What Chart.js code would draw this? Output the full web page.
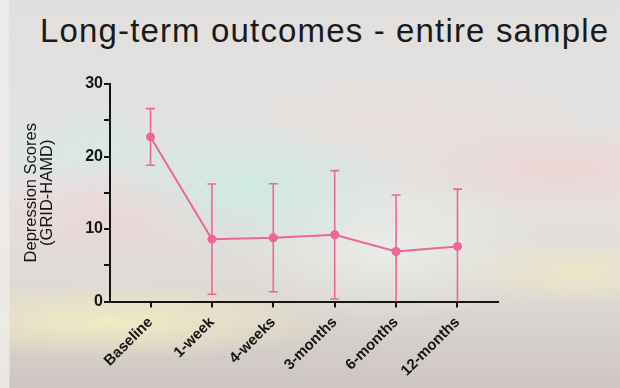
<!DOCTYPE html>
<html>
<head>
<meta charset="utf-8">
<script src="https://cdn.jsdelivr.net/npm/chart.js@4"></script>
<style>
  html, body { margin: 0; padding: 0; }
  body {
    width: 620px; height: 388px; overflow: hidden; position: relative;
    background:
      linear-gradient(90deg, rgba(238,236,234,0.85) 0px, rgba(238,236,234,0.85) 9px, rgba(0,0,0,0) 10px),
      radial-gradient(ellipse 150px 70px at 250px 190px, rgba(200,238,226,0.8), rgba(200,238,226,0) 100%),
      radial-gradient(ellipse 190px 55px at 140px 215px, rgba(244,206,212,0.6), rgba(244,206,212,0) 100%),
      radial-gradient(ellipse 130px 45px at 90px 150px, rgba(210,236,232,0.65), rgba(210,236,232,0) 100%),
      radial-gradient(ellipse 230px 40px at 110px 322px, rgba(246,238,192,0.85), rgba(246,238,192,0) 100%),
      radial-gradient(ellipse 170px 45px at 560px 170px, rgba(244,204,204,0.6), rgba(244,204,204,0) 100%),
      radial-gradient(ellipse 130px 35px at 580px 272px, rgba(246,236,192,0.65), rgba(246,236,192,0) 100%),
      radial-gradient(ellipse 160px 70px at 390px 250px, rgba(236,244,238,0.65), rgba(236,244,238,0) 100%),
      radial-gradient(ellipse 160px 40px at 420px 120px, rgba(240,214,214,0.4), rgba(240,214,214,0) 100%),
      linear-gradient(180deg, #e2e0df 0px, #e4e2e0 200px, #ddd8d3 300px, #cdc5c1 388px);
  }
  #title {
    position: absolute; left: 40px; top: 14px;
    font-family: "Liberation Sans", Arial, sans-serif; font-size: 33px; line-height: 33px;
    letter-spacing: 1.15px; color: #1a1a1a; white-space: nowrap;
  }
  #wrap { position: absolute; left: 0; top: 0; width: 620px; height: 388px; }
</style>
</head>
<body>
<div id="title">Long-term outcomes - entire sample</div>
<div id="wrap"><canvas id="c" width="620" height="388"></canvas></div>
<script>
// Time points and mean depression scores with their standard deviations
const timepoints = ['Baseline', '1-week', '4-weeks', '3-months', '6-months', '12-months'];
const meanScores = [22.7, 8.6, 8.8, 9.2, 6.9, 7.6];
const sdScores = [3.9, 7.6, 7.45, 8.85, 7.8, 7.9];
const yTickValues = [0, 10, 20, 30];

const pink = '#f0649a';
const ink = '#151515';

// Draws mean ± SD whiskers with caps, clipped to the plot area
const errorBars = {
  id: 'errorBars',
  beforeDatasetsDraw(chart) {
    const { ctx, chartArea, scales } = chart;
    ctx.save();
    ctx.beginPath();
    ctx.rect(chartArea.left, chartArea.top - 10, chartArea.right - chartArea.left, chartArea.bottom - chartArea.top + 10);
    ctx.clip();
    ctx.strokeStyle = pink;
    ctx.lineWidth = 1.6;
    meanScores.forEach((m, i) => {
      const x = scales.x.getPixelForValue(i);
      const yHi = scales.y.getPixelForValue(m + sdScores[i]);
      const yLo = scales.y.getPixelForValue(m - sdScores[i]);
      ctx.beginPath();
      ctx.moveTo(x, yHi); ctx.lineTo(x, yLo);
      ctx.moveTo(x - 4.5, yHi); ctx.lineTo(x + 4.5, yHi);
      ctx.moveTo(x - 4.5, yLo); ctx.lineTo(x + 4.5, yLo);
      ctx.stroke();
    });
    ctx.restore();
  }
};

new Chart(document.getElementById('c'), {
  type: 'line',
  data: {
    datasets: [{
      data: meanScores.map((v, i) => ({ x: i, y: v })),
      borderColor: pink,
      backgroundColor: pink,
      borderWidth: 2,
      pointRadius: 4.5,
      pointBackgroundColor: pink,
      pointBorderWidth: 0,
      tension: 0,
      clip: false
    }]
  },
  options: {
    responsive: false,
    animation: false,
    events: [],
    layout: { padding: { top: 84, left: 0, right: 122, bottom: 0 } },
    plugins: { legend: { display: false }, tooltip: { enabled: false }, title: { display: false } },
    scales: {
      x: {
        type: 'linear',
        min: -0.66,
        max: 5.66,
        afterBuildTicks: axis => { axis.ticks = timepoints.map((_, i) => ({ value: i })); },
        afterFit: scale => { scale.height = 86.5; },
        border: { color: ink, width: 2 },
        grid: { drawOnChartArea: false, drawTicks: true, tickLength: 6, color: ink, lineWidth: 2 },
        ticks: {
          callback: v => timepoints[v],
          minRotation: 45, maxRotation: 45,
          padding: 6,
          color: ink,
          font: { family: '"Liberation Sans", Arial, sans-serif', size: 15, weight: 'bold' }
        }
      },
      y: {
        min: 0,
        max: 30,
        afterFit: scale => { scale.width = 110; },
        border: { color: ink, width: 2 },
        grid: { drawOnChartArea: false, drawTicks: true, tickLength: 6, color: ink, lineWidth: 2 },
        ticks: {
          stepSize: 5,
          callback: v => (yTickValues.includes(v) ? String(v) : ''),
          padding: 1,
          color: ink,
          font: { family: '"Liberation Sans", Arial, sans-serif', size: 16, weight: 'bold' }
        },
        title: {
          display: true,
          text: ['Depression Scores', '(GRID-HAMD)'],
          color: ink,
          padding: { top: 23.5, bottom: 0 },
          font: { family: '"Liberation Sans", Arial, sans-serif', size: 16.5, lineHeight: 0.95 }
        }
      }
    }
  },
  plugins: [errorBars]
});
</script>
</body>
</html>
